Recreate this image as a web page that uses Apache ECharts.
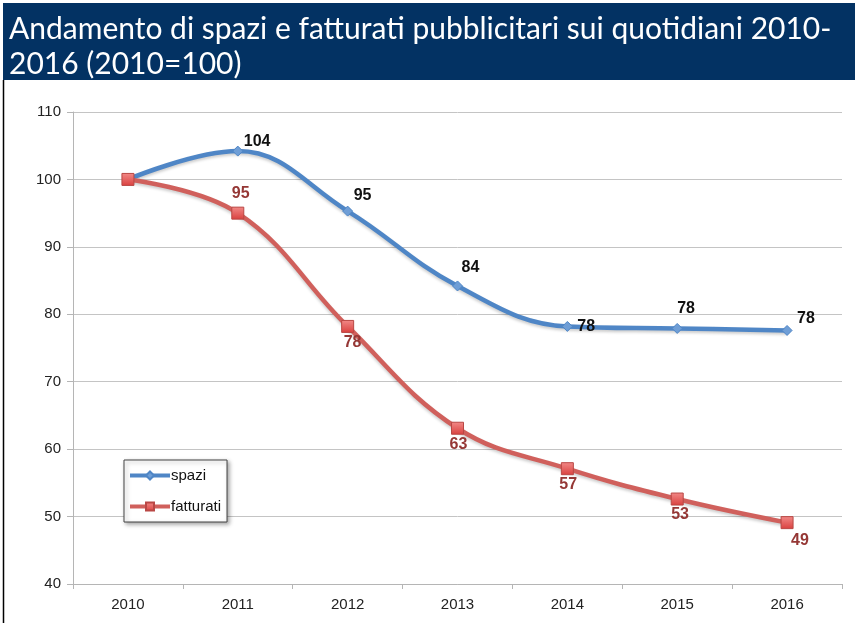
<!DOCTYPE html>
<html>
<head>
<meta charset="utf-8">
<script src="https://cdn.jsdelivr.net/npm/echarts@6/dist/echarts.min.js"></script>
<style>
  html, body { margin: 0; padding: 0; background: #fff; }
  #chart { width: 855px; height: 623px; }
</style>
</head>
<body>
<div id="chart"></div>
<script>
// data
var years = ['2010', '2011', '2012', '2013', '2014', '2015', '2016'];
var spazi = [100, 104.2, 95.3, 84.2, 78.2, 77.9, 77.6];
var spaziLabels = ['', '104', '95', '84', '78', '78', '78'];
var fatturati = [100, 95, 78.2, 63.1, 57.1, 52.6, 49.1];
var fatturatiLabels = ['', '95', '78', '63', '57', '53', '49'];

// label placement per point (style only)
var spaziPos = [null, [6, -18], [6, -24], [4, -26], [10, -8], [0, -28], [10, -20]];
var fattPos = [null, [-6, -28], [-4, 8], [-8, 8], [-8, 8], [-6, 8], [4, 10]];

function buildData(values, labels, pos, color) {
    return values.map(function (v, i) {
        var item = { value: v };
        if (pos[i]) {
            item.label = {
                show: true,
                position: 'inside',
                offset: pos[i],
                align: 'left',
                verticalAlign: 'top',
                formatter: labels[i],
                color: color,
                fontSize: 16,
                fontWeight: 'bold',
                fontFamily: 'Liberation Sans'
            };
        }
        return item;
    });
}

var chart = echarts.init(document.getElementById('chart'));
var option = {
    backgroundColor: '#fff',
    animation: false,
    graphic: [
        { type: 'rect', shape: { x: 3, y: 3, width: 852, height: 77 }, style: { fill: '#033263' }, silent: true },
        { type: 'line', shape: { x1: 3.5, y1: 80, x2: 3.5, y2: 623 }, style: { stroke: '#000', lineWidth: 1.5 }, silent: true },
        {
            type: 'text', left: 9, top: 12,
            style: {
                text: 'Andamento di spazi e fatturati pubblicitari sui quotidiani 2010-\n2016 (2010=100)',
                fill: '#fff', font: '30px Lato', lineHeight: 35
            }
        }
    ],
    legend: {
        orient: 'vertical',
        left: 124, top: 460,
        padding: [8, 6, 8, 4],
        itemGap: 16,
        itemWidth: 40, itemHeight: 10,
        backgroundColor: '#fff',
        borderColor: '#444', borderWidth: 1,
        shadowColor: 'rgba(0,0,0,0.35)', shadowBlur: 4, shadowOffsetX: 2, shadowOffsetY: 2,
        lineStyle: { width: 4 },
        textStyle: { fontFamily: 'Liberation Sans', fontSize: 15, color: '#111', padding: [0, 0, 0, -4] },
        data: ['spazi', 'fatturati']
    },
    grid: { left: 73, right: 13, top: 112, bottom: 39 },
    xAxis: {
        type: 'category',
        data: years,
        boundaryGap: true,
        axisLine: { lineStyle: { color: '#b5b5b5' } },
        axisTick: { show: true, length: 5, lineStyle: { color: '#b5b5b5' } },
        axisLabel: { color: '#222', fontSize: 15, fontFamily: 'Liberation Sans', margin: 13 }
    },
    yAxis: {
        type: 'value',
        min: 40, max: 110, interval: 10,
        axisLine: { show: true, lineStyle: { color: '#b5b5b5' } },
        axisTick: { show: true, length: 6, lineStyle: { color: '#b5b5b5' } },
        axisLabel: { color: '#222', fontSize: 15, fontFamily: 'Liberation Sans', margin: 12 },
        splitLine: { lineStyle: { color: '#c4c4c4' } }
    },
    series: [
        {
            name: 'spazi',
            type: 'line',
            smooth: 0.4,
            data: buildData(spazi, spaziLabels, spaziPos, '#111'),
            symbol: 'diamond',
            symbolSize: 10,
            showAllSymbol: true,
            lineStyle: { color: '#4F86C6', width: 4.5, shadowColor: 'rgba(0,0,0,0.2)', shadowBlur: 3, shadowOffsetY: 2 },
            itemStyle: { color: '#6F9ED6', borderColor: '#4F86C6', borderWidth: 1 },
            z: 3
        },
        {
            name: 'fatturati',
            type: 'line',
            smooth: 0.4,
            data: buildData(fatturati, fatturatiLabels, fattPos, '#953735'),
            symbol: 'rect',
            symbolSize: 12,
            showAllSymbol: true,
            lineStyle: { color: '#D0605C', width: 4.5, shadowColor: 'rgba(0,0,0,0.2)', shadowBlur: 3, shadowOffsetY: 2 },
            itemStyle: {
                color: new echarts.graphic.LinearGradient(0, 0, 0, 1, [
                    { offset: 0, color: '#F28A88' }, { offset: 1, color: '#D9403E' }
                ]),
                borderColor: '#B94744', borderWidth: 1
            },
            z: 4
        }
    ]
};
chart.setOption(option);
</script>
</body>
</html>
